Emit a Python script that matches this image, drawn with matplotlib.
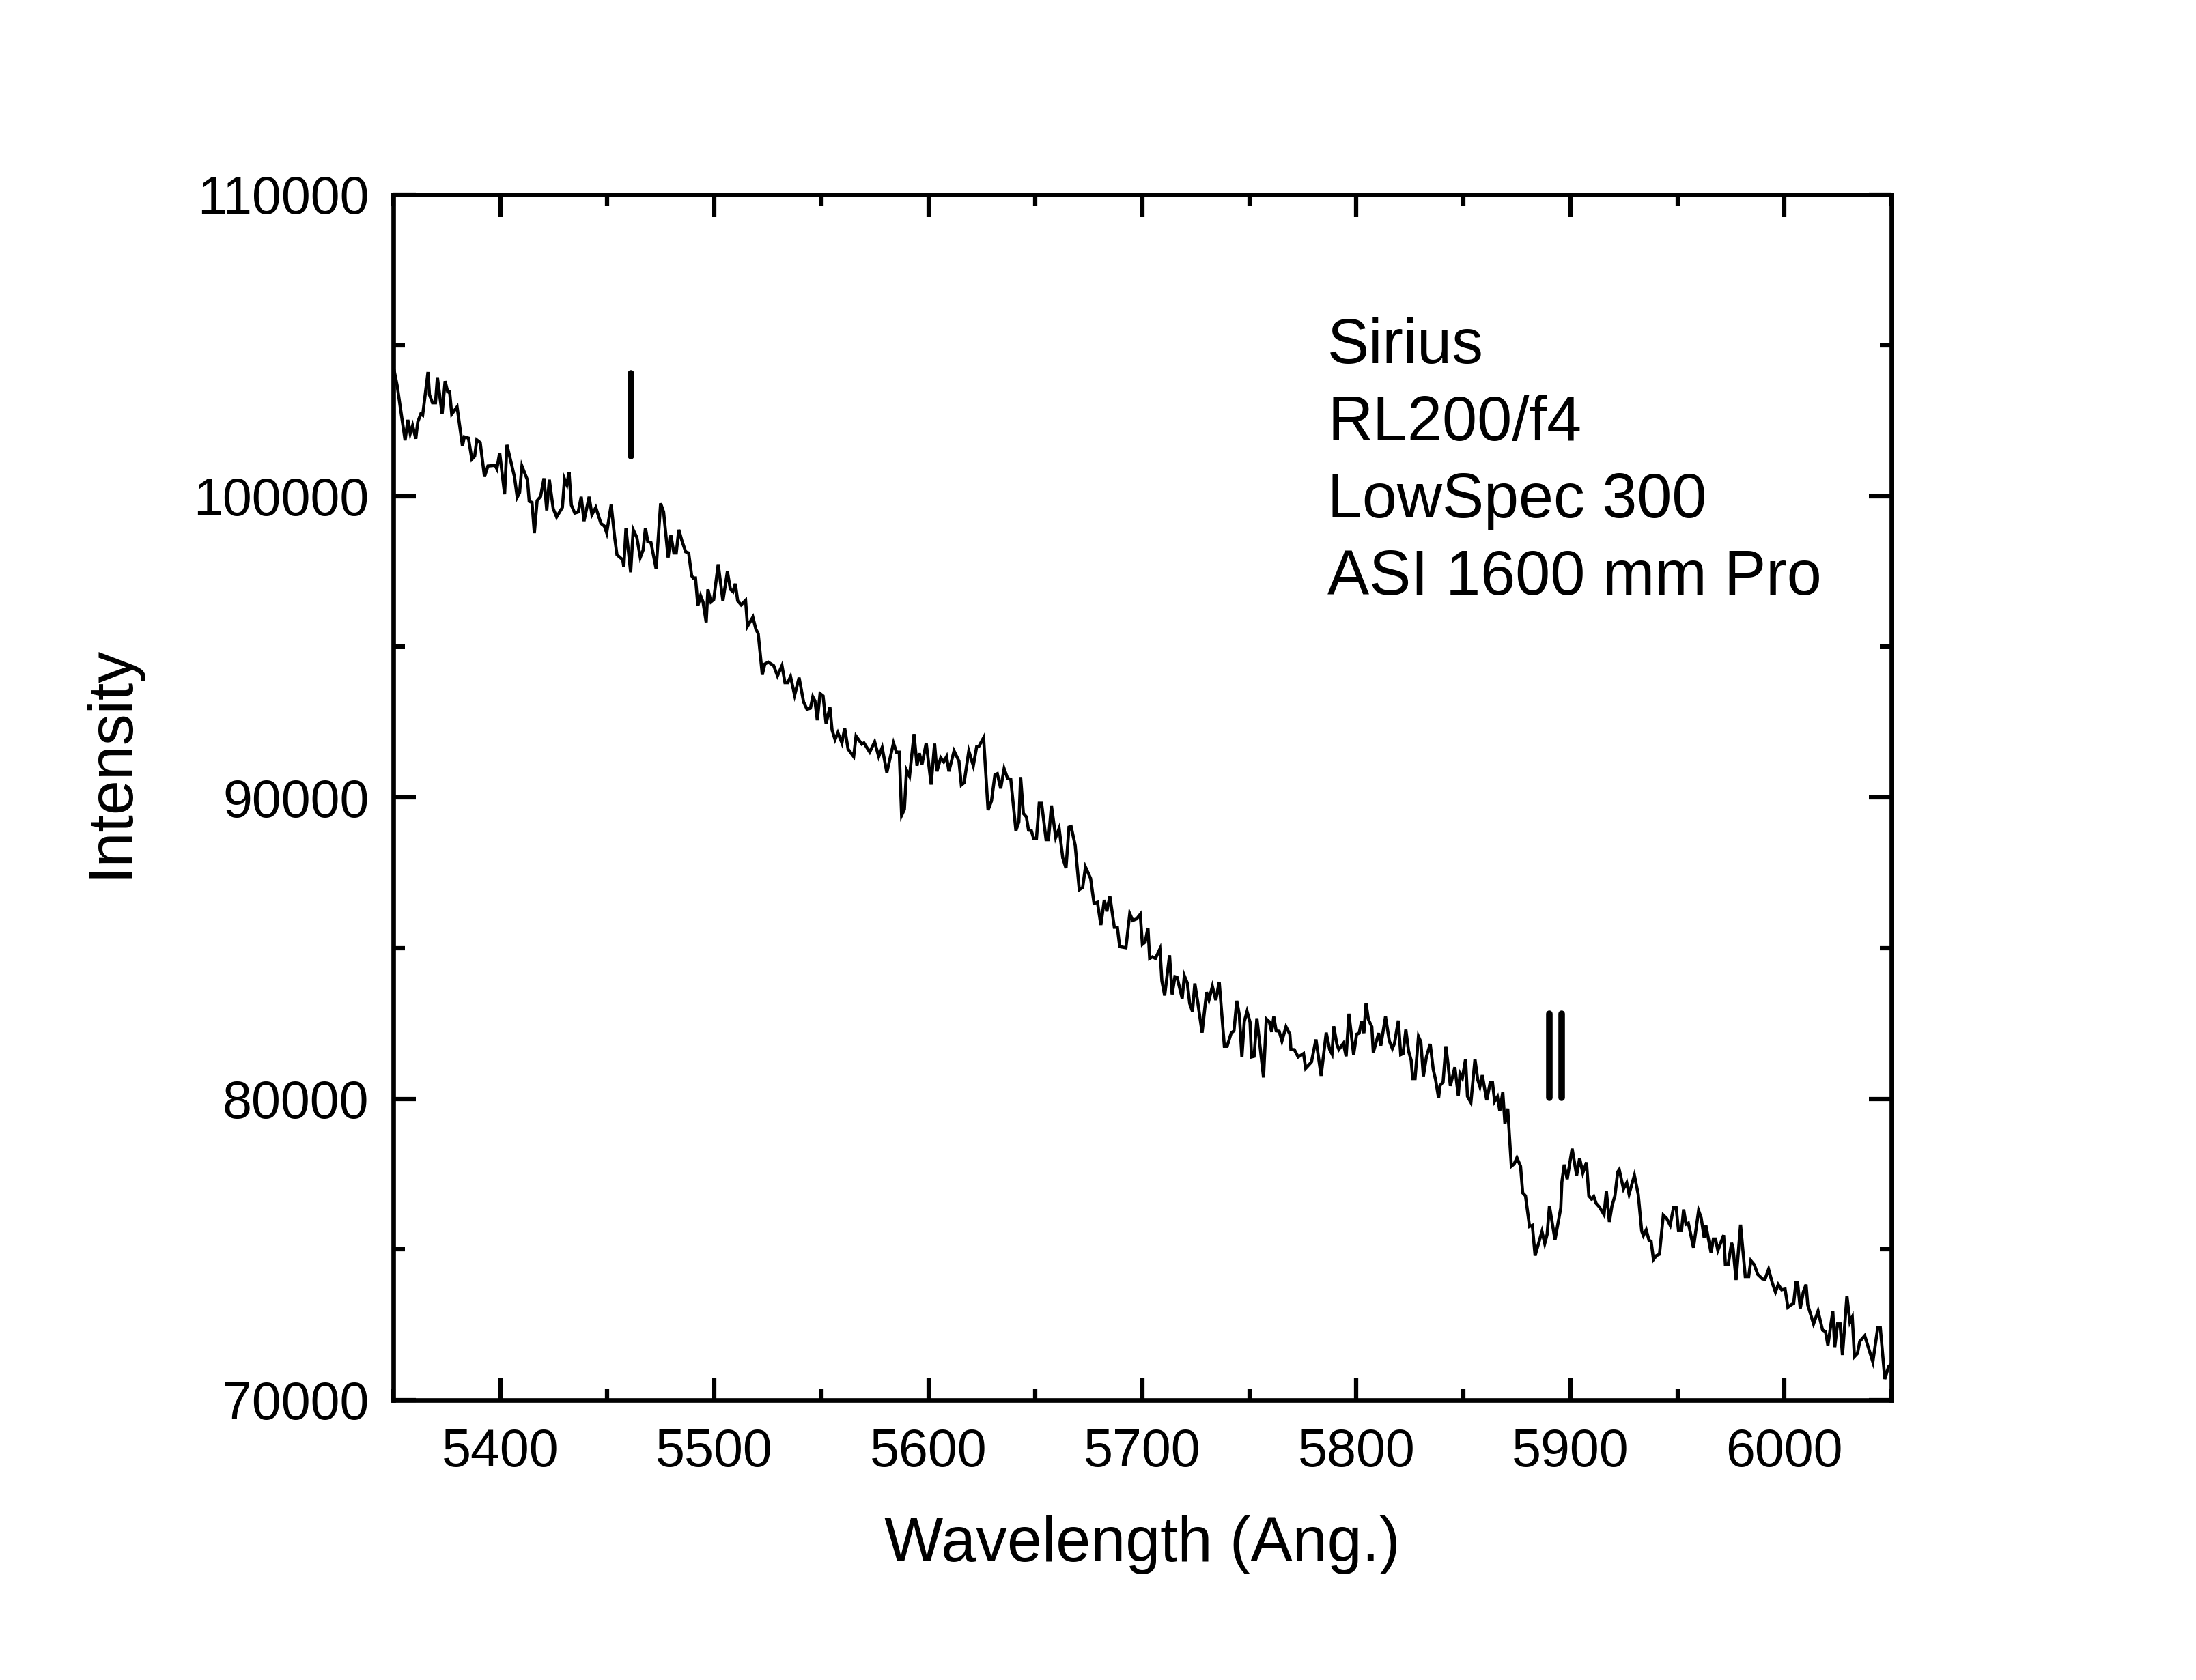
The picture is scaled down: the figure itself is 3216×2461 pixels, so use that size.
import matplotlib
matplotlib.use("Agg")
import matplotlib.pyplot as plt
from matplotlib.ticker import MultipleLocator

plt.rcParams['font.family'] = ['Liberation Sans', 'DejaVu Sans']

# ---- data ----
wavelength = [
    5350.0, 5351.8, 5355.5, 5356.8, 5357.9, 5359.0, 5360.5, 5361.4, 5362.8, 5363.7,
    5366.2, 5366.9, 5368.3, 5369.7, 5370.6, 5372.8, 5374.2, 5375.4, 5376.3, 5377.3,
    5379.8, 5382.3, 5383.2, 5385.1, 5386.7, 5388.0, 5389.0, 5390.6, 5392.6, 5394.2,
    5397.6, 5398.4, 5399.7, 5402.0, 5403.1, 5406.6, 5407.9, 5409.0, 5410.1, 5412.7,
    5413.5, 5414.8, 5415.9, 5417.2, 5418.8, 5420.4, 5421.7, 5422.9, 5424.7, 5426.3,
    5429.0, 5430.0, 5431.1, 5432.1, 5433.2, 5434.8, 5436.4, 5437.8, 5439.1, 5441.5,
    5442.8, 5444.6, 5447.0, 5448.6, 5449.7, 5451.8, 5453.4, 5454.5, 5457.2, 5457.7,
    5458.7, 5460.9, 5462.1, 5463.8, 5465.4, 5466.7,
    5467.8, 5468.9, 5470.4, 5472.8, 5474.9, 5476.3, 5478.4, 5479.7, 5481.1, 5482.2,
    5483.4, 5484.8, 5486.6, 5488.0, 5489.4, 5490.1, 5491.2, 5492.3, 5493.6, 5494.7,
    5496.2, 5497.0, 5498.4, 5499.7, 5501.8, 5504.0, 5506.1, 5507.5, 5508.7, 5509.8,
    5510.9, 5512.5, 5514.6, 5515.5, 5518.0, 5519.4, 5520.5, 5522.4, 5523.6, 5525.2,
    5527.7, 5529.5, 5531.6, 5533.0, 5534.3, 5535.6, 5537.5, 5539.6, 5541.7, 5543.3,
    5544.9, 5546.0, 5547.0, 5548.1, 5549.4, 5550.8, 5552.2, 5554.0, 5555.0, 5556.4,
    5557.7, 5559.6, 5560.9, 5562.5, 5565.1, 5566.2, 5568.9, 5569.9, 5572.6, 5574.9,
    5576.8, 5578.4, 5580.6,
    5583.7, 5585.1, 5586.4, 5587.5, 5588.8, 5589.8, 5591.2, 5593.3,
    5594.7, 5595.8, 5597.0, 5599.0, 5601.3, 5602.9, 5604.0, 5605.8, 5607.2, 5608.5,
    5609.6, 5612.0, 5614.3, 5615.4, 5616.7, 5618.9, 5621.0, 5622.6, 5623.6, 5625.8,
    5627.9, 5629.5, 5631.1, 5632.2, 5633.8, 5635.4, 5637.0, 5638.5, 5640.9, 5642.3,
    5643.1, 5644.4, 5645.8, 5646.8, 5648.1, 5649.2, 5650.5, 5651.8, 5652.9, 5655.0,
    5656.1, 5657.5, 5659.5, 5661.1, 5662.8, 5664.3, 5665.7, 5666.7, 5668.6, 5670.5,
    5672.1, 5673.4, 5675.8, 5677.4, 5679.0, 5680.6, 5682.2, 5683.4, 5684.8, 5686.9,
    5688.3, 5689.4, 5692.3, 5694.1, 5695.5,
    5697.3, 5699.0, 5700.0, 5701.3, 5702.6, 5703.4, 5704.7, 5706.1, 5708.2, 5709.1,
    5710.4, 5712.7, 5713.9, 5715.2, 5716.2, 5718.6, 5719.6, 5721.0, 5722.1, 5723.4,
    5724.5, 5725.8, 5727.9, 5730.0, 5731.1, 5732.7, 5734.3, 5735.9, 5737.0, 5738.3,
    5739.6, 5741.5, 5742.8, 5744.1, 5745.3, 5746.5, 5747.6, 5748.9, 5750.3, 5751.0,
    5752.2, 5753.5, 5756.6, 5757.9, 5759.3, 5760.4, 5761.4, 5762.5, 5763.9, 5765.2,
    5767.1, 5768.9, 5769.4, 5771.0, 5772.8, 5775.3, 5776.3, 5779.0, 5781.1, 5783.5,
    5785.9, 5787.5, 5788.6, 5789.4, 5790.9, 5791.8, 5793.9, 5795.2, 5796.5, 5798.7,
    5800.1, 5801.3, 5802.4, 5803.5, 5804.5, 5805.6, 5807.2, 5807.9, 5810.4, 5811.4,
    5813.6,
    5815.4, 5816.8, 5817.8, 5819.6, 5820.7, 5821.8, 5823.1, 5824.4, 5825.6, 5826.3,
    5827.4, 5829.0, 5830.1, 5831.3, 5832.7, 5834.5, 5835.9, 5837.0, 5838.4, 5839.1,
    5840.5, 5841.8, 5842.8, 5843.9, 5846.0, 5847.6, 5848.4, 5849.5, 5851.0, 5851.9,
    5853.5, 5855.4, 5856.7, 5857.7, 5858.8, 5860.9, 5862.5, 5863.6, 5864.6, 5865.9,
    5867.0, 5868.4, 5869.4, 5870.7, 5872.4, 5873.7, 5875.0, 5876.7, 5877.7, 5879.0,
    5880.9, 5882.2, 5883.5, 5886.7, 5888.0, 5889.1, 5890.2, 5892.8, 5895.5, 5896.0,
    5897.1, 5898.5, 5900.8, 5902.9, 5904.3, 5905.8, 5907.5, 5908.6, 5909.9, 5910.9,
    5912.0, 5913.6, 5915.7, 5916.8, 5918.2, 5919.4, 5920.8, 5922.1, 5922.8, 5924.8,
    5926.3, 5927.4, 5929.9, 5931.7,
    5933.3, 5934.1, 5935.4, 5936.7, 5937.7, 5938.8, 5940.2, 5941.6, 5943.4, 5945.0,
    5946.6, 5948.2, 5949.4, 5950.5, 5951.9, 5952.9, 5954.0, 5955.1, 5957.5, 5959.9,
    5961.1, 5962.5, 5963.3, 5965.7, 5966.8, 5967.8, 5968.9, 5971.6, 5972.4, 5973.7,
    5975.3, 5976.0, 5977.4, 5979.5, 5981.7, 5983.3, 5984.3, 5985.9, 5987.5, 5989.7,
    5990.9, 5992.6, 5994.4, 5995.8, 5997.1, 5998.7, 6000.3, 6001.6, 6003.0, 6004.3,
    6005.4, 6006.1, 6007.4, 6008.8, 6010.1, 6010.9, 6013.6, 6015.7, 6017.8, 6019.2,
    6020.3, 6022.6, 6023.5, 6024.8, 6026.0, 6027.1, 6029.2, 6030.6, 6031.7, 6032.7,
    6034.1, 6035.2, 6037.5, 6041.3, 6043.6, 6044.8, 6046.9, 6048.7, 6050.0,
]

intensity = [
    104300, 103660, 101846, 102525, 102072, 102337, 101900, 102450, 102714, 102676,
    104110, 103356, 103090, 103090, 103937, 102714, 103810, 103454, 103454, 102714,
    102956, 101657, 101960, 101921, 101219, 101317, 101860, 101770, 100638, 100993,
    101016, 100902, 101430, 100057, 101695, 100638, 99958, 100109, 100993, 100525,
    99823, 99785, 98766, 99845, 99981, 100585, 99521, 100540, 99581, 99302,
    99619, 100563, 100374, 100789, 99694, 99430, 99468, 99973, 99166, 99973,
    99377, 99619, 99090, 99000, 98773, 99709, 98637, 98048, 97882, 97640,
    98924, 97467, 98879, 98622, 97958, 98199,
    98939, 98486, 98448, 97580, 99754, 99468, 97958, 98697, 98108, 98108,
    98879, 98524, 98146, 98108, 97354, 97278, 97278, 96357, 96689, 96485,
    95806, 96901, 96485, 96561, 97731, 96523, 97489, 96901, 96825, 97089,
    96523, 96387, 96538, 95677, 95979, 95579, 95428, 94069, 94424, 94485,
    94371, 94032, 94371, 93805, 93805, 94009, 93390, 93971, 93163, 92922,
    92959, 93337, 93201, 92559, 93443, 93367, 92446, 92990, 92235, 91918,
    92144, 91804, 92295, 91600, 91351, 92031, 91766, 91804, 91502, 91842,
    91351, 91653, 90823,
    91800, 91500, 91500, 89400, 89600, 90900, 90700, 92100,
    91049, 91465, 91087, 91804, 90423, 91782, 90861, 91314, 91178, 91351,
    90861, 91540, 91200, 90408, 90483, 91540, 91049, 91691, 91691, 91978,
    89577, 89879, 90747, 90785, 90294, 90951, 90634, 90596, 88898, 89185,
    90672, 89464, 89350, 88913, 88898, 88634, 88634, 89804, 89804, 88596,
    88596, 89728, 88671, 88973, 87992, 87652, 89011, 89033, 88407, 86935,
    87010, 87690, 87312, 86482, 86519, 85764, 86595, 86217, 86723, 85689,
    85689, 85047, 85009, 86142, 85915,
    85968, 86119, 85123, 85198, 85666, 84654, 84707, 84654, 84972, 83915,
    83424, 84760, 83462, 84050, 84028, 83326, 84081, 83839, 83160, 82896,
    83824, 83235, 82193, 83537, 83273, 83726, 83273, 83877, 82896, 81740,
    81740, 82178, 82254, 83250, 82782, 81385, 82556, 82896, 82541, 81385,
    81408, 82669, 80706, 82646, 82556, 82216, 82722, 82254, 82238, 81914,
    82389, 82140, 81634, 81627, 81385, 81498, 81008, 81219, 81967, 80759,
    82193, 81634, 81483, 82405, 81800, 81634, 81838, 81408, 82820, 81461,
    82140, 82178, 82571, 82178, 83175, 82631, 82389, 81536, 82178, 81763,
    82722,
    81914, 81665, 81838, 82593, 81461, 81498, 82291, 81574, 81272, 80668,
    80668, 82065, 81891, 80744, 81385, 81816, 80970, 80630, 80026, 80441,
    80555, 81740, 81159, 80426, 81046, 80102, 80834, 80683, 81310, 80079,
    79875, 81310, 80630, 80404, 80781, 79951, 80532, 80532, 79913, 80064,
    79596, 80215, 79173, 79671, 77761, 77837, 78041, 77761, 76878, 76780,
    75761, 75798, 74794, 75594, 75194, 75496, 76440, 75322, 76380, 77233,
    77814, 77331, 78343, 77459, 78026, 77535, 77890, 76780, 76667, 76757,
    76531, 76402, 76153, 76931, 75912, 76440, 76780, 77572, 77648, 77006,
    77210, 76833, 77459, 76818,
    75610, 75459, 75647, 75307, 75270, 74666, 74794, 74839, 76138, 76025,
    75798, 76402, 76402, 75625, 75625, 76327, 75836, 75874, 75058, 76289,
    76047, 75383, 75798, 74892, 75345, 75345, 74968, 75474, 74492, 74492,
    75217, 75043, 73986, 75821, 74100, 74100, 74628, 74492, 74175, 74024,
    74009, 74341, 73873, 73586, 73835, 73662, 73684, 73080, 73156, 73209,
    73911, 73911, 73043, 73586, 73835, 73156, 72529, 72952, 72325, 72272,
    71820, 72952, 71759, 72529, 72529, 71495, 73458, 72590, 72756, 71442,
    71548, 71948, 72137, 71268, 72401, 72401, 70702, 71117, 71200,
]

# line markers (wavelength, lower, upper)
marker_wl = [5461, 5890, 5896]
marker_lo = [101320, 80030, 80030]
marker_hi = [104070, 82820, 82820]

info_lines = ["Sirius", "RL200/f4", "LowSpec 300", "ASI 1600 mm Pro"]

x_limits = (5350, 6050)
y_limits = (70000, 110000)
x_label = "Wavelength (Ang.)"
y_label = "Intensity"

# ---- figure ----
W, H = 3216, 2461
dpi = 300
fig = plt.figure(figsize=(W / dpi, H / dpi), dpi=dpi)
ax = fig.add_axes([576 / W, 1 - 2051 / H, (2770 - 576) / W, (2051 - 285) / H])

ax.plot(wavelength, intensity, color='black', linewidth=1.1, solid_joinstyle='miter')

for w, lo, hi in zip(marker_wl, marker_lo, marker_hi):
    ax.plot([w, w], [lo, hi], color='black', linewidth=2.3, solid_capstyle='round')

ax.set_xlim(*x_limits)
ax.set_ylim(*y_limits)
ax.xaxis.set_major_locator(MultipleLocator(100))
ax.xaxis.set_minor_locator(MultipleLocator(50))
ax.yaxis.set_major_locator(MultipleLocator(10000))
ax.yaxis.set_minor_locator(MultipleLocator(5000))

for sp in ax.spines.values():
    sp.set_linewidth(1.6)

ax.tick_params(which='both', direction='in', top=True, right=True, width=1.5)
ax.tick_params(which='major', length=8)
ax.tick_params(which='minor', length=4)
ax.tick_params(axis='x', which='major', labelsize=18.5, pad=9.5)
ax.tick_params(axis='y', which='major', labelsize=18.5, pad=8.5)

ax.set_xlabel(x_label, fontsize=22)
ax.set_ylabel(y_label, fontsize=22)
ax.xaxis.set_label_coords(0.5, (2051 - 2220) / 1766)
ax.yaxis.set_label_coords((205 - 576) / 2194, (2051 - 1115) / 1766)

base0 = 532
for i, line in enumerate(info_lines):
    ypix = base0 + 113 * i
    ax.text((1944 - 576) / 2194, (2051 - ypix) / 1766, line, transform=ax.transAxes,
            fontsize=22, ha='left', va='baseline')

fig.savefig("out.png", dpi=dpi)
